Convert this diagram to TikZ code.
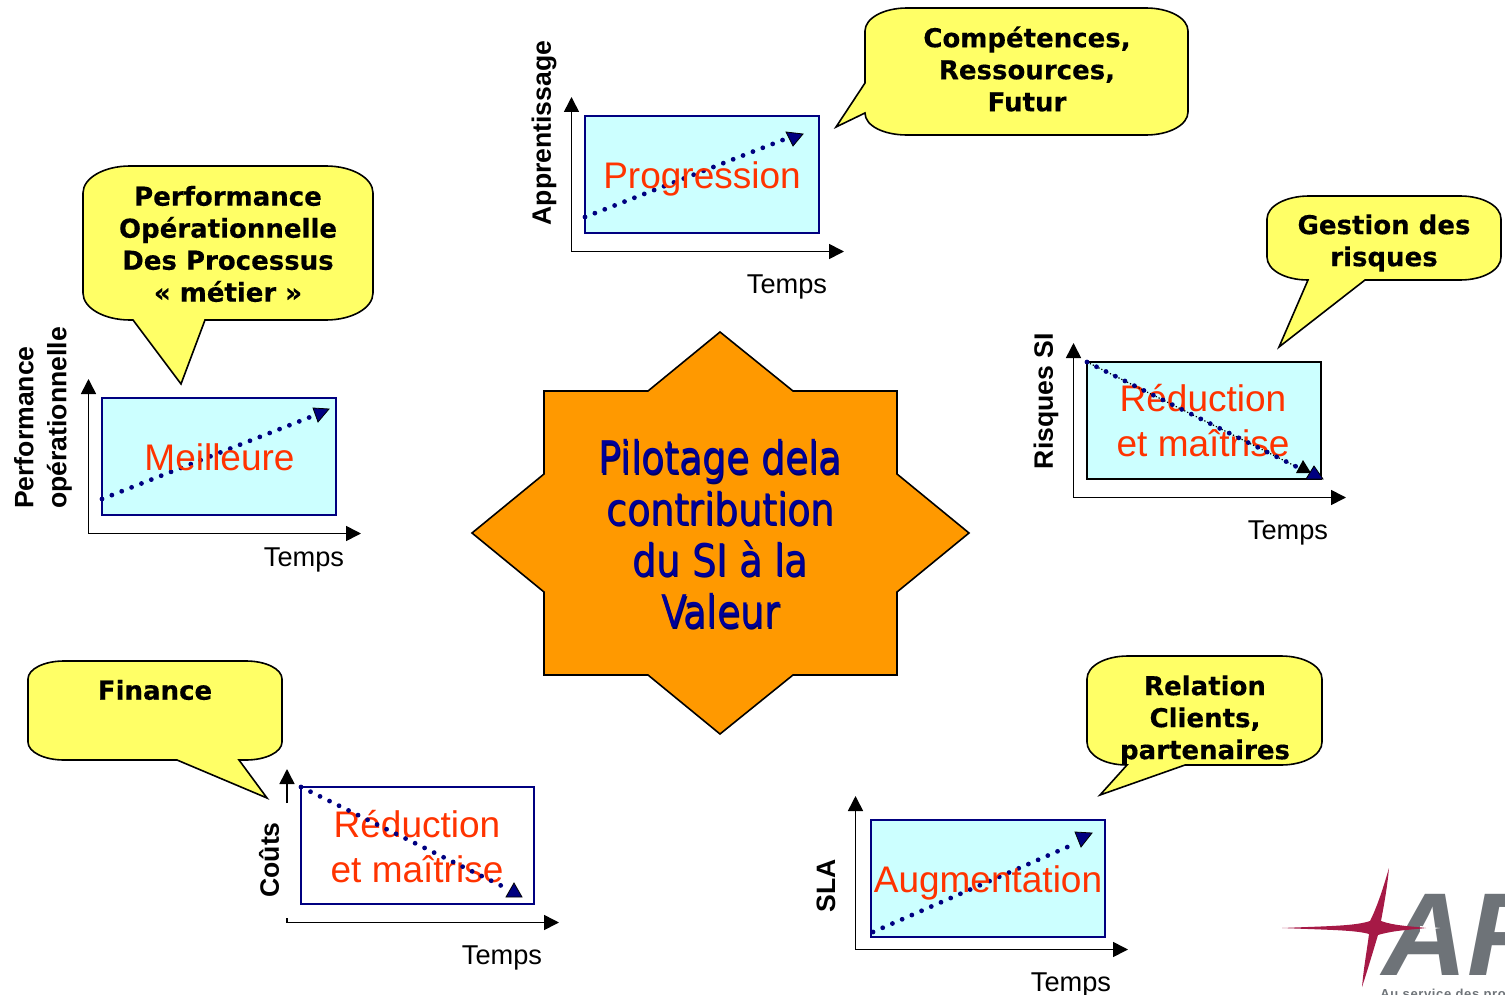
\documentclass[tikz,border=0pt]{standalone}
\usepackage{fontspec}
\setmainfont{Liberation Sans}
\newfontfamily\bubblefont{DejaVu Sans}[BoldFont={DejaVu Sans Bold}, BoldFeatures={FakeBold=0.4}]
\newfontfamily\starfont{DejaVu Sans Condensed}[FakeStretch=0.93]
\newfontfamily\logofont{Liberation Sans}[LetterSpace=5]
\usetikzlibrary{arrows.meta}
\definecolor{bubbleyellow}{RGB}{255,255,102}
\definecolor{chartcyan}{RGB}{204,255,255}
\definecolor{chartnavy}{RGB}{0,0,128}
\definecolor{chartred}{RGB}{255,51,0}
\definecolor{starorange}{RGB}{255,153,0}
\definecolor{starblue}{RGB}{0,0,153}
\definecolor{logored}{RGB}{166,25,70}
\definecolor{logogray}{RGB}{110,115,120}

\begin{document}
\begin{tikzpicture}[x=0.5pt, y=-0.5pt]
      % Styles for the different parts
      \tikzset{bubble/.style={fill=bubbleyellow, draw=black, line width=0.8pt}}
      \tikzset{bubbletext/.style={font=\bubblefont\bfseries\fontsize{13}{16}\selectfont, align=center, inner sep=0pt}}
      \tikzset{chart/.style={draw=chartnavy, line width=0.8pt}}
      \tikzset{axis/.style={line width=0.8pt, -{Triangle[length=7.5pt, width=7.5pt]}}}
      \tikzset{trend/.style={chartnavy, line width=2.4pt, line cap=round, dash pattern=on 0pt off 5.3pt}}
      \tikzset{trendtip/.style={fill=chartnavy}}
      \tikzset{charttext/.style={text=chartred, font=\fontsize{18.5}{22.5}\selectfont, align=center, inner sep=0pt}}
      \tikzset{timetext/.style={font=\fontsize{13.6}{15}\selectfont, inner sep=0pt}}
      \tikzset{axistext/.style={font=\bfseries\fontsize{13.3}{16.5}\selectfont, rotate=90, align=left, inner sep=0pt}}
      \tikzset{startext/.style={font=\starfont\fontsize{22.5}{25.6}\selectfont, align=center, inner sep=0pt}}

      \useasboundingbox (0,0) rectangle (1505,995);

      % Central star
      \draw[fill=starorange, draw=black, line width=0.8pt] (720,332) -- (793,391) -- (897,391) -- (897,474)
        -- (969,533) -- (897,592) -- (897,675) -- (793,675) -- (720,734) -- (648,675) -- (544,675)
        -- (544,592) -- (472,533) -- (544,474) -- (544,391) -- (648,391) -- cycle;
      \node[startext, text=starblue!60!black] (pilotshadow) at (721.5,535.5)
        {Pilotage dela\\contribution\\du SI à la\\Valeur};
      \node[startext, text=starblue] (pilot) at (720.5,534)
        {Pilotage dela\\contribution\\du SI à la\\Valeur};

      % --- Apprentissage ---
      \draw[bubble] (907,8) -- (1146,8) .. controls +(23,0) and +(0,-13) .. (1188,31) -- (1188,112)
        .. controls +(0,13) and +(23,0) .. (1146,135) -- (907,135) .. controls +(-23,0) and +(0,13) .. (865,113)
        -- (836,127) -- (865,83) -- (865,31) .. controls +(0,-13) and +(-23,0) .. (907,8) -- cycle;
      \node[bubbletext] (skills) at (1027,69) {Compétences,\\Ressources,\\Futur};
      \draw[chart, fill=chartcyan] (585,116) rectangle (819,233);
      \coordinate (learnO) at (571.5,251.5);
      \coordinate (learnY) at (571.5,97);
      \coordinate (learnX) at (844,251.5);
      \draw[axis] (learnO) -- (learnY);
      \draw[axis] (learnO) -- (learnX);
      \coordinate (learnA) at (585,217);
      \coordinate (learnB) at (793,136);
      \draw[trend] (learnA) -- (learnB);
      \draw[trendtip] (803,134) -- (786,132) -- (793,146) -- cycle;
      \node[charttext] (learntext) at (702,179) {Progression};
      \node[timetext] (learntime) at (787,287) {Temps};
      \node[axistext] (learnlabel) at (544,133) {Apprentissage};

      % --- Performance ---
      \draw[bubble] (130,166) -- (326,166) .. controls +(26,0) and +(0,-15) .. (373,193) -- (373,293)
        .. controls +(0,15) and +(26,0) .. (326,320) -- (205,320) -- (181,384) -- (133,320) -- (130,320)
        .. controls +(-26,0) and +(0,15) .. (83,293) -- (83,193) .. controls +(0,-15) and +(-26,0) .. (130,166) -- cycle;
      \node[bubbletext] (process) at (228,244) {Performance\\Opérationnelle\\Des Processus\\« métier »};
      \draw[chart, fill=chartcyan] (102,398) rectangle (336,515);
      \coordinate (perfO) at (88.5,533.5);
      \coordinate (perfY) at (88.5,379);
      \coordinate (perfX) at (361,533.5);
      \draw[axis] (perfO) -- (perfY);
      \draw[axis] (perfO) -- (perfX);
      \coordinate (perfA) at (102,499);
      \coordinate (perfB) at (318,414);
      \draw[trend] (perfA) -- (perfB);
      \draw[trendtip] (329,409) -- (313,408) -- (318,422) -- cycle;
      \node[charttext] (perftext) at (219.5,457) {Meilleure};
      \node[timetext] (perftime) at (304,560) {Temps};
      \node[axistext] (perflabel) at (43,418) {Performance\\opérationnelle};

      % --- Risques ---
      \draw[bubble] (1309,196) -- (1460,196) .. controls +(23,0) and +(0,-13) .. (1501,219) -- (1501,257)
        .. controls +(0,13) and +(23,0) .. (1460,280) -- (1365,280) -- (1279,347) -- (1308,280)
        .. controls +(-23,0) and +(0,13) .. (1267,257) -- (1267,219) .. controls +(0,-13) and +(-23,0) .. (1309,196) -- cycle;
      \node[bubbletext] (risks) at (1384,243) {Gestion des\\risques};
      \draw[draw=black, line width=0.8pt, fill=chartcyan] (1087,362) rectangle (1321,479);
      \coordinate (riskO) at (1073.5,497.5);
      \coordinate (riskY) at (1073.5,343);
      \coordinate (riskX) at (1346,497.5);
      \draw[axis] (riskO) -- (riskY);
      \draw[axis] (riskO) -- (riskX);
      \node[charttext] (risktext) at (1203,421) {Réduction\\et maîtrise};
      \coordinate (riskA) at (1087,362);
      \coordinate (riskB) at (1303,470);
      \draw[line width=0.6pt, densely dotted] (riskA) -- (riskB);
      \draw[trend] (riskA) -- (riskB);
      \fill (1296,473) -- (1303,460) -- (1311,473) -- cycle;
      \draw[trendtip] (1306,479) -- (1314,466) -- (1323,479) -- cycle;
      \node[timetext] (risktime) at (1288,533) {Temps};
      \node[axistext] (risklabel) at (1046,401) {Risques SI};

      % --- Couts ---
      \draw[bubble] (64,661) -- (246,661) .. controls +(20,0) and +(0,-10) .. (282,679) -- (282,742)
        .. controls +(0,10) and +(20,0) .. (246,760) -- (239,760) -- (267,798) -- (177,760) -- (64,760)
        .. controls +(-20,0) and +(0,10) .. (28,742) -- (28,679) .. controls +(0,-10) and +(-20,0) .. (64,661) -- cycle;
      \node[bubbletext] (finance) at (155,690) {Finance};
      \draw[chart] (301,787) rectangle (534,904);
      \coordinate (costO) at (287,922.5);
      \coordinate (costS) at (287,918);
      \coordinate (costT) at (287,803);
      \coordinate (costY) at (287,769);
      \coordinate (costX) at (559,922.5);
      \draw[axis] (costT) -- (costY);
      \draw[line width=0.8pt] (costS) -- (costO);
      \draw[axis] (costO) -- (costX);
      \node[charttext] (costtext) at (417,846.5) {Réduction\\et maîtrise};
      \coordinate (costA) at (301,787);
      \coordinate (costB) at (510,890);
      \draw[trend] (costA) -- (costB);
      \draw[trendtip] (522,897) -- (506,897) -- (514,883) -- cycle;
      \node[timetext] (costtime) at (502,958) {Temps};
      \node[axistext] (costlabel) at (269,860) {Coûts};

      % --- SLA ---
      \draw[bubble] (1128,656) -- (1281,656) .. controls +(23,0) and +(0,-13) .. (1322,679) -- (1322,742)
        .. controls +(0,13) and +(23,0) .. (1281,765) -- (1185,765) -- (1100,795) -- (1127,765)
        .. controls +(-23,0) and +(0,13) .. (1087,742) -- (1087,679) .. controls +(0,-13) and +(-23,0) .. (1128,656) -- cycle;
      \node[bubbletext] (clients) at (1205,720) {Relation\\Clients,\\partenaires};
      \draw[chart, fill=chartcyan] (871,820) rectangle (1105,937);
      \coordinate (slaO) at (855.5,949.5);
      \coordinate (slaY) at (855.5,796);
      \coordinate (slaX) at (1128,949.5);
      \draw[axis] (slaO) -- (slaY);
      \draw[axis] (slaO) -- (slaX);
      \coordinate (slaA) at (873,932);
      \coordinate (slaB) at (1072,845);
      \draw[trend] (slaA) -- (slaB);
      \draw[trendtip] (1092,833) -- (1075,832) -- (1081,847) -- cycle;
      \node[charttext] (slatext) at (988,883) {Augmentation};
      \node[timetext] (slatime) at (1071,985) {Temps};
      \node[axistext] (slalabel) at (826,886) {SLA};

      % Logo in the corner, cut by the page edge
      \node[anchor=base west, inner sep=0pt, text=logogray, font=\bfseries\itshape\fontsize{59}{59}\selectfont] (logoname) at (1382,975) {AF};
      \fill[white] (1420,926) -- (1440,928) -- (1420,931) -- cycle;
      \fill[logored] (1282,928) .. controls (1330,926) and (1355,926) .. (1370,921)
        .. controls (1378,905) and (1384,885) .. (1389,868) .. controls (1387,890) and (1383,910) .. (1381,921)
        .. controls (1395,926) and (1410,926) .. (1426,928) .. controls (1410,930) and (1395,930) .. (1378,935)
        .. controls (1372,955) and (1366,975) .. (1362,987) .. controls (1364,965) and (1367,950) .. (1369,934)
        .. controls (1355,930) and (1330,930) .. (1282,928) -- cycle;
      \node[anchor=base west, inner sep=0pt, text=logogray, font=\logofont\bfseries\fontsize{6.5}{8}\selectfont] (logoline) at (1380,998) {Au service des pro};
\end{tikzpicture}
\end{document}
